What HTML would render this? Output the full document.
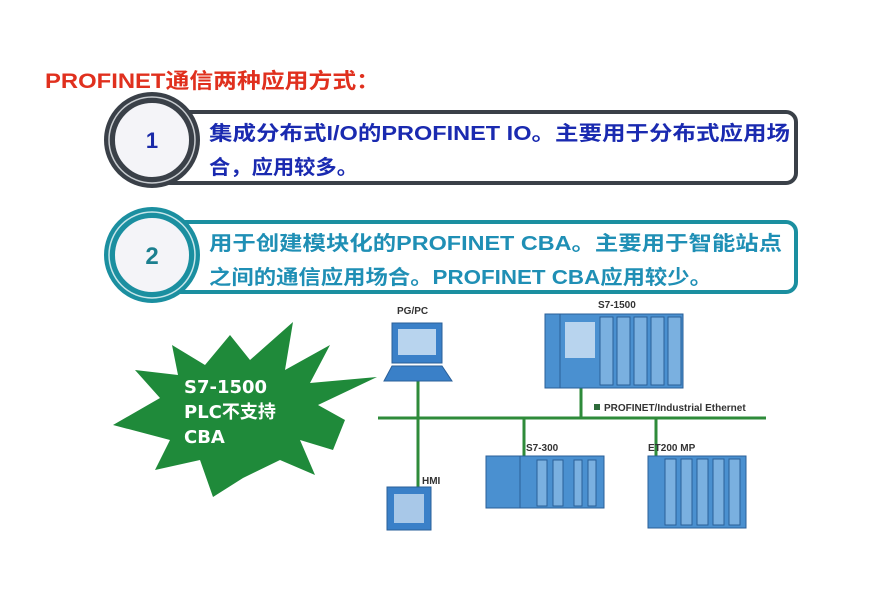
<!DOCTYPE html>
<html><head><meta charset="utf-8"><style>
body{margin:0;background:#fff;width:892px;height:608px;overflow:hidden;font-family:"Liberation Sans","Noto Sans CJK SC",sans-serif}
</style></head><body>
<svg width="892" height="608" xmlns="http://www.w3.org/2000/svg" style="position:absolute;left:0;top:0">
<text x="45" y="88" font-size="21" font-weight="bold" fill="#e0301e" textLength="335" lengthAdjust="spacingAndGlyphs" font-family="Liberation Sans,Noto Sans CJK SC,sans-serif">PROFINET通信两种应用方式：</text>
<!-- box 1 -->
<rect x="160" y="112" width="636" height="71" rx="10" fill="#fff" stroke="#3a4048" stroke-width="4"/>
<circle cx="152" cy="140" r="43" fill="#f4f4f8" stroke="#3a4048" stroke-width="10"/>
<circle cx="152" cy="140" r="43" fill="none" stroke="#c8ccd0" stroke-width="1.5"/>
<circle cx="152" cy="140" r="38" fill="none" stroke="#3a4048" stroke-width="2"/>
<text x="152" y="148" font-size="22" font-weight="bold" fill="#1a2aa8" text-anchor="middle">1</text>
<g font-size="20" font-weight="bold" fill="#1a2ab0" font-family="Liberation Sans,Noto Sans CJK SC,sans-serif" lengthAdjust="spacingAndGlyphs">
<text x="209" y="140" textLength="581" lengthAdjust="spacingAndGlyphs">集成分布式I/O的PROFINET IO。主要用于分布式应用场</text>
<text x="209" y="174" textLength="149" lengthAdjust="spacingAndGlyphs">合，应用较多。</text>
</g>
<!-- box 2 -->
<rect x="160" y="222" width="636" height="70" rx="10" fill="#fff" stroke="#1b8fa0" stroke-width="4"/>
<circle cx="152" cy="255" r="43" fill="#f4f4f8" stroke="#1b8fa0" stroke-width="10"/>
<circle cx="152" cy="255" r="43" fill="none" stroke="#c8e6ea" stroke-width="1.5"/>
<circle cx="152" cy="255" r="38" fill="none" stroke="#1b8fa0" stroke-width="2"/>
<text x="152" y="264" font-size="24" font-weight="bold" fill="#1b7f8f" text-anchor="middle">2</text>
<g font-size="20" font-weight="bold" fill="#1f8fb5" font-family="Liberation Sans,Noto Sans CJK SC,sans-serif">
<text x="209" y="250" textLength="573" lengthAdjust="spacingAndGlyphs">用于创建模块化的PROFINET CBA。主要用于智能站点</text>
<text x="209" y="284" textLength="503" lengthAdjust="spacingAndGlyphs">之间的通信应用场合。PROFINET CBA应用较少。</text>
</g>
<!-- starburst -->
<polygon points="113,425 160,398 135,370 178,375 172,345 205,365 230,335 250,360 293,322 285,370 330,345 310,383 377,377 318,405 345,420 333,450 300,440 315,475 280,460 243,478 213,497 200,460 155,470 170,440" fill="#1f8a3a"/>
<g font-size="18" font-weight="bold" fill="#fff" font-family="DejaVu Sans,Noto Sans CJK SC,sans-serif">
<text x="184" y="393">S7-1500</text>
<text x="184" y="418">PLC不支持</text>
<text x="184" y="443">CBA</text>
</g>
<!-- network -->
<g stroke="#2e8b3a" stroke-width="3">
<line x1="378" y1="418" x2="766" y2="418"/>
<line x1="418" y1="380" x2="418" y2="488"/>
<line x1="581" y1="388" x2="581" y2="418"/>
<line x1="524" y1="418" x2="524" y2="456"/>
<line x1="656" y1="418" x2="656" y2="456"/>
</g>
<rect x="594" y="404" width="6" height="6" fill="#2e6b3a"/>
<g font-size="10" font-weight="bold" fill="#333">
<text x="604" y="411">PROFINET/Industrial Ethernet</text>
<text x="397" y="314">PG/PC</text>
<text x="598" y="308">S7-1500</text>
<text x="526" y="451">S7-300</text>
<text x="648" y="451">ET200 MP</text>
<text x="422" y="484">HMI</text>
</g>
<!-- PC -->
<rect x="392" y="323" width="50" height="40" fill="#3a80c8" stroke="#2a5f98"/>
<rect x="398" y="329" width="38" height="26" fill="#b8d4ee"/>
<polygon points="392,366 442,366 452,381 384,381" fill="#3a80c8" stroke="#2a5f98"/>
<!-- HMI -->
<rect x="387" y="487" width="44" height="43" fill="#3a80c8" stroke="#2a5f98"/>
<rect x="394" y="494" width="30" height="29" fill="#a8c8e8"/>
<!-- S7-1500 -->
<rect x="545" y="314" width="138" height="74" fill="#4a90d0" stroke="#2a5f98"/>
<rect x="565" y="322" width="30" height="36" fill="#b8d4ee"/>
<g fill="#7ab0e0" stroke="#2a5f98"><rect x="600" y="317" width="13" height="68"/><rect x="617" y="317" width="13" height="68"/><rect x="634" y="317" width="13" height="68"/><rect x="651" y="317" width="13" height="68"/><rect x="668" y="317" width="13" height="68"/></g>
<line x1="560" y1="314" x2="560" y2="388" stroke="#2a5f98"/>
<!-- S7-300 -->
<rect x="486" y="456" width="118" height="52" fill="#4a90d0" stroke="#2a5f98"/>
<g fill="#7ab0e0" stroke="#2a5f98"><rect x="537" y="460" width="10" height="46"/><rect x="553" y="460" width="10" height="46"/><rect x="574" y="460" width="8" height="46"/><rect x="588" y="460" width="8" height="46"/></g>
<line x1="520" y1="456" x2="520" y2="508" stroke="#2a5f98"/>
<!-- ET200 -->
<rect x="648" y="456" width="98" height="72" fill="#4a90d0" stroke="#2a5f98"/>
<g fill="#7ab0e0" stroke="#2a5f98"><rect x="665" y="459" width="11" height="66"/><rect x="681" y="459" width="11" height="66"/><rect x="697" y="459" width="11" height="66"/><rect x="713" y="459" width="11" height="66"/><rect x="729" y="459" width="11" height="66"/></g>
</svg>
</body></html>
